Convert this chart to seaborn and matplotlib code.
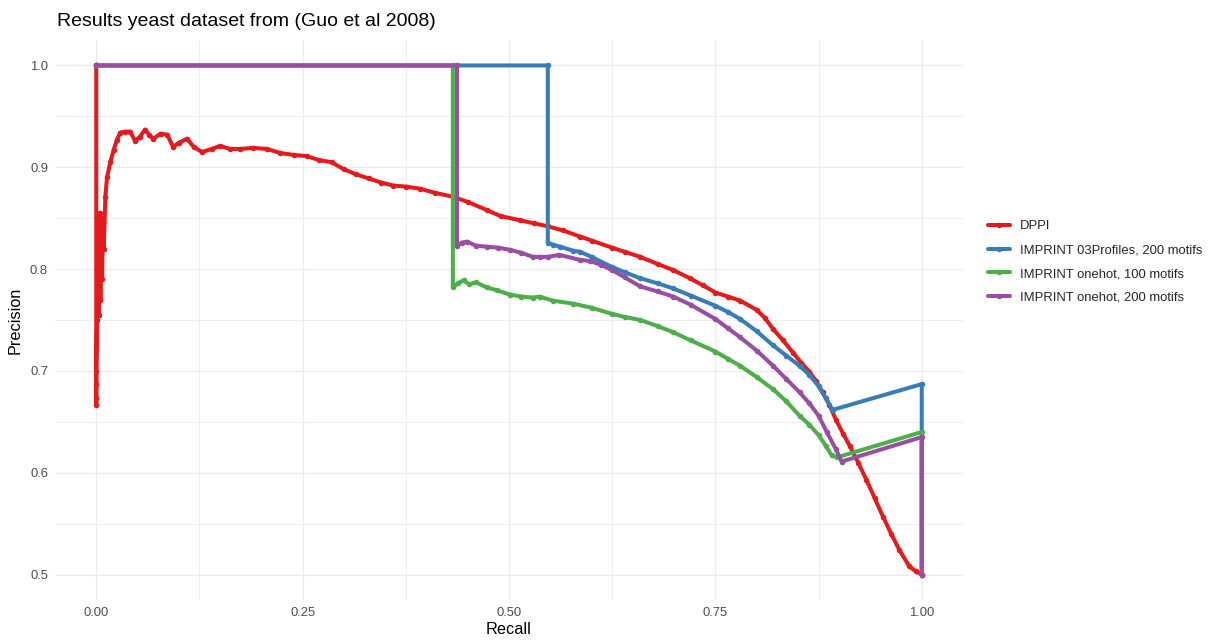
import matplotlib
matplotlib.use("Agg")
import pandas as pd
import matplotlib.pyplot as plt
import seaborn as sns
from matplotlib.lines import Line2D
from matplotlib.ticker import MultipleLocator, FormatStrFormatter

# Precision / recall values
dppi_recall = [0, 0, 0, 0, 0, 0.001, 0.002, 0.003, 0.004, 0.005, 0.006, 0.007, 0.008, 0.009,
               0.011, 0.013, 0.017, 0.021, 0.025, 0.029, 0.035, 0.041, 0.047, 0.053, 0.059,
               0.064, 0.069, 0.078, 0.086, 0.093, 0.100, 0.110, 0.118, 0.128, 0.140, 0.150,
               0.162, 0.174, 0.190, 0.207, 0.223, 0.240, 0.255, 0.270, 0.285, 0.300, 0.315,
               0.330, 0.345, 0.360, 0.375, 0.392, 0.410, 0.432, 0.450, 0.473, 0.490, 0.513,
               0.530, 0.547, 0.565, 0.586, 0.600, 0.625, 0.640, 0.659, 0.680, 0.699, 0.719,
               0.735, 0.750, 0.765, 0.780, 0.800, 0.810, 0.820, 0.832, 0.844, 0.854, 0.864,
               0.872, 0.880, 0.888, 0.896, 0.905, 0.913, 0.923, 0.933, 0.943, 0.953, 0.963,
               0.973, 0.985, 0.993, 1.0]
dppi_precision = [1.0, 0.667, 0.673, 0.687, 0.700, 0.750, 0.800, 0.755, 0.855, 0.770, 0.850,
                  0.790, 0.845, 0.820, 0.871, 0.890, 0.905, 0.917, 0.927, 0.934, 0.935, 0.935,
                  0.926, 0.930, 0.937, 0.932, 0.928, 0.933, 0.932, 0.920, 0.924, 0.928, 0.920,
                  0.915, 0.918, 0.921, 0.918, 0.918, 0.919, 0.918, 0.914, 0.912, 0.911, 0.907,
                  0.905, 0.898, 0.893, 0.889, 0.885, 0.882, 0.881, 0.879, 0.875, 0.871, 0.866,
                  0.858, 0.852, 0.848, 0.845, 0.842, 0.838, 0.832, 0.828, 0.821, 0.817, 0.812,
                  0.805, 0.799, 0.791, 0.784, 0.777, 0.773, 0.769, 0.760, 0.752, 0.741, 0.730,
                  0.718, 0.708, 0.699, 0.690, 0.679, 0.667, 0.652, 0.638, 0.626, 0.610, 0.593,
                  0.575, 0.557, 0.540, 0.524, 0.508, 0.503, 0.500]

prof200_recall = [0, 0.547, 0.547, 0.553, 0.562, 0.578, 0.586, 0.600, 0.625, 0.640, 0.659,
                  0.680, 0.699, 0.720, 0.750, 0.765, 0.780, 0.800, 0.820, 0.836, 0.852, 0.864,
                  0.875, 0.884, 0.891, 0.893, 1.0, 1.0]
prof200_precision = [1.0, 1.0, 0.826, 0.824, 0.822, 0.818, 0.817, 0.812, 0.802, 0.797, 0.791,
                     0.786, 0.781, 0.774, 0.764, 0.758, 0.751, 0.739, 0.725, 0.715, 0.705, 0.696,
                     0.685, 0.673, 0.663, 0.662, 0.687, 0.500]

oh100_recall = [0, 0.432, 0.432, 0.438, 0.445, 0.452, 0.460, 0.473, 0.486, 0.501, 0.515, 0.529,
                0.537, 0.553, 0.578, 0.600, 0.625, 0.640, 0.659, 0.680, 0.699, 0.720, 0.750,
                0.765, 0.780, 0.800, 0.820, 0.836, 0.852, 0.864, 0.875, 0.884, 0.891, 0.897,
                1.0, 1.0]
oh100_precision = [1.0, 1.0, 0.782, 0.786, 0.789, 0.785, 0.787, 0.782, 0.779, 0.775, 0.773,
                   0.772, 0.773, 0.769, 0.766, 0.762, 0.756, 0.753, 0.750, 0.744, 0.738, 0.730,
                   0.719, 0.712, 0.705, 0.694, 0.682, 0.670, 0.656, 0.647, 0.637, 0.626, 0.617,
                   0.615, 0.640, 0.500]

oh200_recall = [0, 0.437, 0.437, 0.443, 0.449, 0.460, 0.473, 0.487, 0.501, 0.515, 0.529, 0.537,
                0.547, 0.561, 0.586, 0.598, 0.612, 0.625, 0.640, 0.659, 0.680, 0.699, 0.720,
                0.750, 0.765, 0.780, 0.800, 0.820, 0.836, 0.852, 0.864, 0.875, 0.885, 0.896,
                0.903, 1.0, 1.0]
oh200_precision = [1.0, 1.0, 0.823, 0.826, 0.827, 0.823, 0.822, 0.821, 0.819, 0.816, 0.812,
                   0.812, 0.812, 0.814, 0.809, 0.808, 0.804, 0.799, 0.792, 0.783, 0.778, 0.773,
                   0.765, 0.751, 0.742, 0.733, 0.720, 0.705, 0.692, 0.679, 0.668, 0.656, 0.640,
                   0.623, 0.611, 0.635, 0.500]

models = ["DPPI", "IMPRINT 03Profiles, 200 motifs", "IMPRINT onehot, 100 motifs",
          "IMPRINT onehot, 200 motifs"]
colors = ["#E41A1C", "#377EB8", "#4DAF4A", "#984EA3"]

frames = []
for name, r, p in zip(models,
                      [dppi_recall, prof200_recall, oh100_recall, oh200_recall],
                      [dppi_precision, prof200_precision, oh100_precision, oh200_precision]):
    frames.append(pd.DataFrame({"Recall": r, "Precision": p, "Model": name}))
df = pd.concat(frames, ignore_index=True)

sns.set_theme(style="white")
plt.rcParams['font.family'] = ['Liberation Sans', 'DejaVu Sans']

fig = plt.figure(figsize=(12.12, 6.42), dpi=100)
ax = fig.add_axes([55 / 1212, 1 - 600 / 642, (963 - 55) / 1212, (600 - 40) / 642])

sns.lineplot(data=df, x="Recall", y="Precision", hue="Model", hue_order=models,
             palette=colors, estimator=None, sort=False, marker="o", markersize=4,
             markeredgewidth=0, linewidth=2.9, legend=False, ax=ax)

ax.set_xlim(-0.05, 1.05)
ax.set_ylim(0.475, 1.025)
ax.xaxis.set_major_locator(MultipleLocator(0.25))
ax.xaxis.set_minor_locator(MultipleLocator(0.125))
ax.yaxis.set_major_locator(MultipleLocator(0.1))
ax.yaxis.set_minor_locator(MultipleLocator(0.05))
ax.xaxis.set_major_formatter(FormatStrFormatter("%.2f"))
ax.yaxis.set_major_formatter(FormatStrFormatter("%.1f"))
ax.grid(which="major", color="#EBEBEB", linewidth=0.9)
ax.grid(which="minor", color="#EBEBEB", linewidth=0.55)
ax.set_axisbelow(True)
for s in ax.spines.values():
    s.set_visible(False)
ax.tick_params(which="both", length=0, labelsize=9.4, labelcolor="#4D4D4D", pad=5)
ax.set_xlabel("Recall", fontsize=11.7, color="black", labelpad=2)
ax.set_ylabel("Precision", fontsize=11.7, color="black", labelpad=5)

fig.text(57 / 1212, 1 - 22 / 642, "Results yeast dataset from (Guo et al 2008)",
         fontsize=14, ha="left", va="center", color="black")

handles = [Line2D([], [], color=c, linewidth=2.9, marker="o", markersize=4,
                  markeredgewidth=0) for c in colors]
fig.legend(handles, models, loc="center left", bbox_to_anchor=(976 / 1212, 1 - 262 / 642),
           frameon=False, fontsize=9.4, handlelength=1.7, handletextpad=0.75,
           labelspacing=0.9)

fig.savefig("out.png", dpi=100)
